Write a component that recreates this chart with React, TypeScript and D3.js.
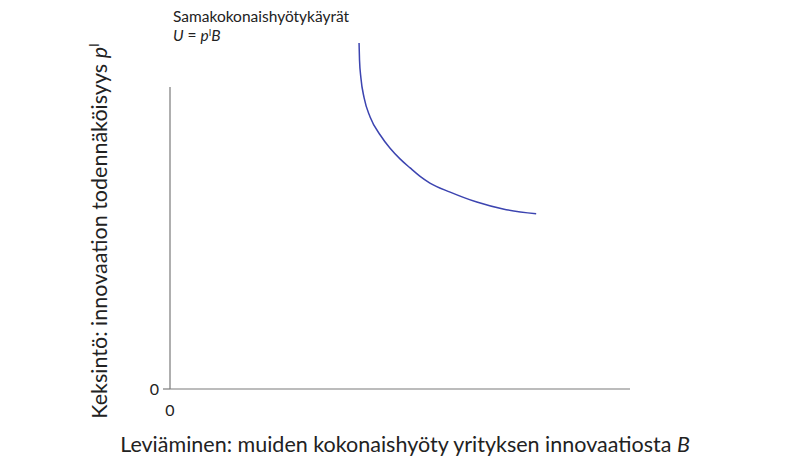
import React from 'react';
import * as d3 from 'd3';

// Indifference curve points (B, p)
const curveB = [4.11, 4.12, 4.15, 4.22, 4.35, 4.57, 4.78, 5.0, 5.22, 5.43, 5.65, 6.09, 6.67, 7.24, 7.96];
const curveP = [11.46, 10.89, 10.3, 9.64, 9.01, 8.41, 7.98, 7.62, 7.32, 7.05, 6.82, 6.52, 6.19, 5.96, 5.8];
const xTicks = [0];
const yTicks = [0];

const FONT = 'Lato, "Noto Sans", sans-serif';
const W = 810;
const H = 464;

export default function App() {
  const x = d3.scaleLinear().domain([0, 10]).range([170, 630]);
  const y = d3.scaleLinear().domain([0, 10]).range([389, 87]);

  const pts = curveB.map((b, i) => [b, curveP[i]] as [number, number]);
  const line = d3.line<[number, number]>()
    .x(d => x(d[0]))
    .y(d => y(d[1]))
    .curve(d3.curveMonotoneX);

  return (
    <div style={{ position: 'absolute', left: 0, top: 0 }}>
      <svg width={W} height={H} style={{ display: 'block', background: '#fff' }} fontFamily={FONT}>
        {/* axes */}
        <line x1={x(0)} x2={x(10)} y1={y(0)} y2={y(0)} stroke="#7a7a7a" strokeWidth={1.2} />
        <line x1={x(0)} x2={x(0)} y1={y(0)} y2={y(10)} stroke="#7a7a7a" strokeWidth={1.2} />
        {yTicks.map(t => (
          <g key={'y' + t}>
            <line x1={x(0) - 7} x2={x(0)} y1={y(t)} y2={y(t)} stroke="#7a7a7a" strokeWidth={1.2} />
            <text x={x(0) - 11} y={y(t)} dy="0.35em" textAnchor="end" fontSize={16} fill="#222">{t}</text>
          </g>
        ))}
        {xTicks.map(t => (
          <text key={'x' + t} x={x(t)} y={y(0) + 27} textAnchor="middle" fontSize={16} fill="#222">{t}</text>
        ))}

        {/* curve */}
        <path d={line(pts) || ''} fill="none" stroke="#3c44b0" strokeWidth={1.5} />

        {/* curve label */}
        <text x={173} y={22} fontSize={15.5} fill="#222">Samakokonaishyötykäyrät</text>
        <text x={173} y={41} fontSize={15.5} fill="#222">
          <tspan fontStyle="italic">U</tspan> = <tspan fontStyle="italic">p</tspan>
          <tspan fontSize={9} baselineShift="super">I</tspan>
          <tspan fontStyle="italic">B</tspan>
        </text>

        {/* axis titles */}
        <text x={405} y={452} textAnchor="middle" fontSize={21.5} fill="#222">
          Leviäminen: muiden kokonaishyöty yrityksen innovaatiosta <tspan fontStyle="italic">B</tspan>
        </text>
        <text transform="translate(107,231) rotate(-90)" textAnchor="middle" fontSize={21.5} fill="#222">
          Keksintö: innovaation todennäköisyys <tspan fontStyle="italic">p</tspan>
          <tspan fontSize={13} baselineShift="super">I</tspan>
        </text>
      </svg>
    </div>
  );
}
